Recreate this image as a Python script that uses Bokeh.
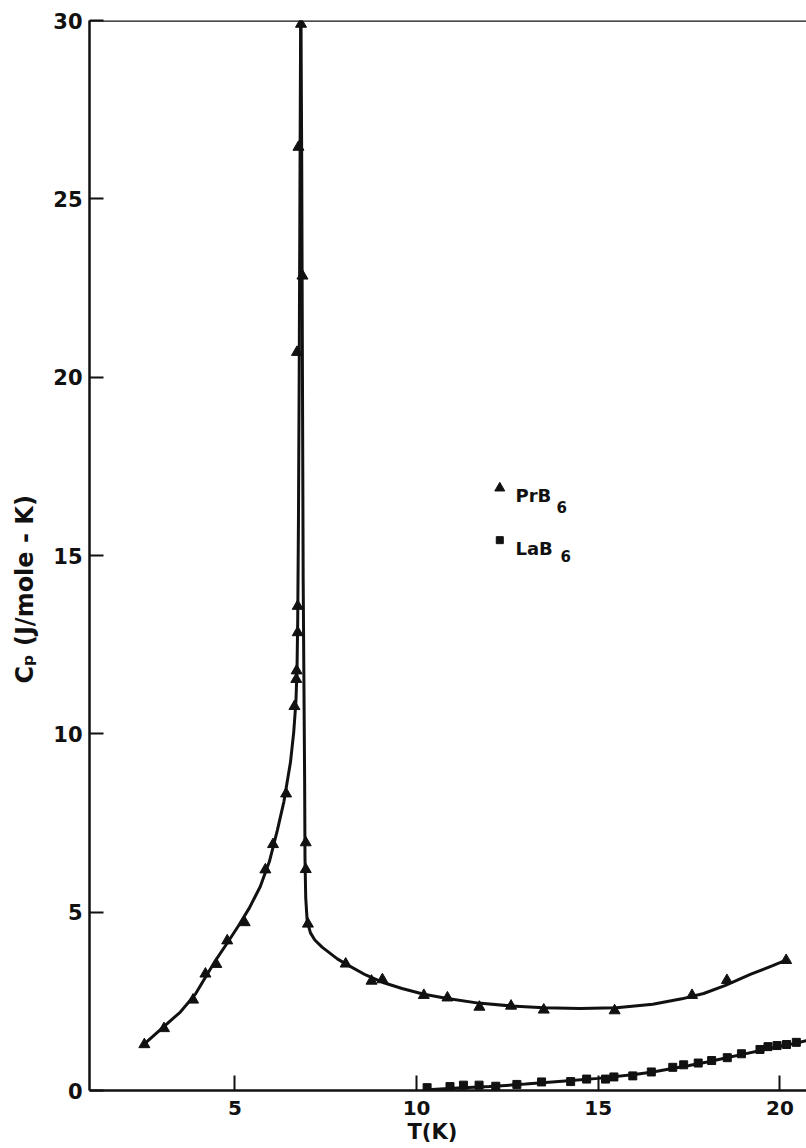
from bokeh.embed import file_html
from bokeh.models import FixedTicker, Label, Range1d, Span, Title
from bokeh.plotting import figure
from bokeh.resources import INLINE

# PrB6 measured points (T in K, Cp in J/mole-K)
prb6_t = [2.51, 3.05, 3.85, 4.19, 4.49, 4.79, 5.27, 5.84, 6.05, 6.41, 6.64,
          6.69, 6.70, 6.73, 6.73, 6.71, 6.75, 6.82, 6.86, 6.95, 6.95, 7.01,
          8.05, 8.76, 9.06, 10.20, 10.85, 11.73, 12.60, 13.50, 15.45, 17.58,
          18.54, 20.17]
prb6_cp = [1.29, 1.74, 2.54, 3.27, 3.54, 4.20, 4.71, 6.19, 6.90, 8.32, 10.77,
           11.53, 11.77, 12.84, 13.58, 20.70, 26.45, 29.90, 22.84, 6.95, 6.20,
           4.67, 3.55, 3.07, 3.11, 2.67, 2.60, 2.34, 2.37, 2.26, 2.24, 2.67,
           3.09, 3.65]

# LaB6 measured points
lab6_t = [10.29, 10.92, 11.29, 11.72, 12.18, 12.76, 13.44, 14.24, 14.68, 15.20,
          15.43, 15.95, 16.46, 17.05, 17.35, 17.75, 18.12, 18.55, 18.94, 19.45,
          19.67, 19.92, 20.18, 20.45]
lab6_cp = [0.08, 0.11, 0.15, 0.15, 0.12, 0.17, 0.24, 0.25, 0.32, 0.32,
           0.38, 0.41, 0.52, 0.65, 0.72, 0.77, 0.84, 0.92, 1.03, 1.15,
           1.23, 1.26, 1.29, 1.35]

# hand drawn curves
prb6_low_t = [2.45, 3.03, 3.5, 3.92, 4.47, 4.8, 5.1, 5.4, 5.7, 5.95, 6.17,
              6.35, 6.53, 6.62, 6.68, 6.71, 6.73, 6.75, 6.77, 6.79, 6.81]
prb6_low_cp = [1.25, 1.78, 2.2, 2.71, 3.65, 4.15, 4.62, 5.12, 5.72, 6.42, 7.3,
               8.1, 9.2, 10.05, 10.9, 11.8, 13.2, 16.0, 20.0, 25.0, 30.0]
prb6_high_t = [6.82, 6.84, 6.86, 6.88, 6.92, 6.93, 6.95, 6.99, 7.08, 7.2, 7.4,
               7.82, 8.05, 8.6, 9.1, 9.6, 10.2, 10.85, 11.7, 12.6, 13.5, 14.5,
               15.5, 16.5, 17.3, 17.9, 18.5, 19.2, 19.8, 20.2]
prb6_high_cp = [30.0, 26.0, 20.0, 14.3, 8.7, 6.5, 5.4, 4.75, 4.42, 4.22, 4.02,
                3.69, 3.55, 3.24, 3.02, 2.86, 2.70, 2.58, 2.45, 2.37, 2.32, 2.30,
                2.32, 2.42, 2.57, 2.72, 2.95, 3.26, 3.50, 3.67]
lab6_fit_t = [10.3, 11.0, 12.0, 13.0, 14.0, 15.0, 16.0, 16.5, 17.0, 17.5, 18.0,
              18.5, 19.0, 19.5, 20.0, 20.4, 20.73]
lab6_fit_cp = [0.02, 0.06, 0.11, 0.18, 0.26, 0.34, 0.45, 0.52, 0.61, 0.70, 0.80,
               0.91, 1.02, 1.13, 1.24, 1.32, 1.40]

x_ticks = [5, 10, 15, 20]
y_ticks = [0, 5, 10, 15, 20, 25, 30]

FONT = "DejaVu Sans"
INK = "#111111"

p = figure(width=806, height=1148, output_backend="svg", toolbar_location=None,
           tools="", x_range=Range1d(1, 20.73), y_range=Range1d(0, 30),
           min_border_left=89, min_border_right=0, min_border_top=20,
           min_border_bottom=58)
p.grid.visible = False
p.outline_line_color = None
p.background_fill_color = "white"
p.border_fill_color = "white"

for ax in (p.xaxis[0], p.yaxis[0]):
    ax.axis_line_width = 2.5
    ax.axis_line_color = INK
    ax.major_tick_line_width = 2
    ax.major_tick_line_color = INK
    ax.major_tick_out = 0
    ax.minor_tick_line_color = None
    ax.major_label_text_font = FONT
    ax.major_label_text_font_style = "bold"
    ax.major_label_text_color = INK

p.xaxis.ticker = FixedTicker(ticks=x_ticks)
p.xaxis.major_tick_in = 15
p.xaxis.major_label_text_font_size = "20px"
p.xaxis.major_label_standoff = 10

p.yaxis.ticker = FixedTicker(ticks=y_ticks)
p.yaxis.major_tick_in = 14
p.yaxis.major_label_text_font_size = "21px"
p.yaxis.major_label_standoff = 7

# top frame line
p.add_layout(Span(location=30, dimension="width", line_color=INK, line_width=2.5))

# curves
p.line(prb6_low_t, prb6_low_cp, line_color=INK, line_width=3)
p.line(prb6_high_t, prb6_high_cp, line_color=INK, line_width=3)
p.line(lab6_fit_t, lab6_fit_cp, line_color=INK, line_width=3)

# data points
p.scatter(prb6_t, prb6_cp, marker="triangle", size=11, color=INK)
p.scatter(lab6_t, lab6_cp, marker="square", size=8, color=INK)

# legend
p.scatter([12.29], [16.89], marker="triangle", size=10, color=INK)
p.scatter([12.29], [15.43], marker="square", size=7, color=INK)


def lab(x, y, text, size):
    p.add_layout(Label(x=x, y=y, x_units="screen", y_units="screen", text=text,
                       text_font=FONT, text_font_size=size, text_color=INK,
                       text_font_style="bold", text_align="left",
                       text_baseline="alphabetic"))


lab(426, 595, "PrB", "18px")
lab(467, 584, "6", "15px")
lab(426, 542, "LaB", "18px")
lab(471, 535, "6", "15px")

# axis titles as side titles so they can be offset like the original
p.add_layout(Title(text="T(K)", align="left", offset=318, standoff=0,
                   text_font=FONT, text_font_size="21px", text_font_style="bold",
                   text_color=INK), "below")
p.add_layout(Title(text="C\u209a (J/mole - K)", align="left", offset=407,
                   standoff=20, vertical_align="top", text_font=FONT,
                   text_font_size="24px", text_font_style="bold",
                   text_color=INK), "left")

open("out.html", "w").write(file_html(p, INLINE))
